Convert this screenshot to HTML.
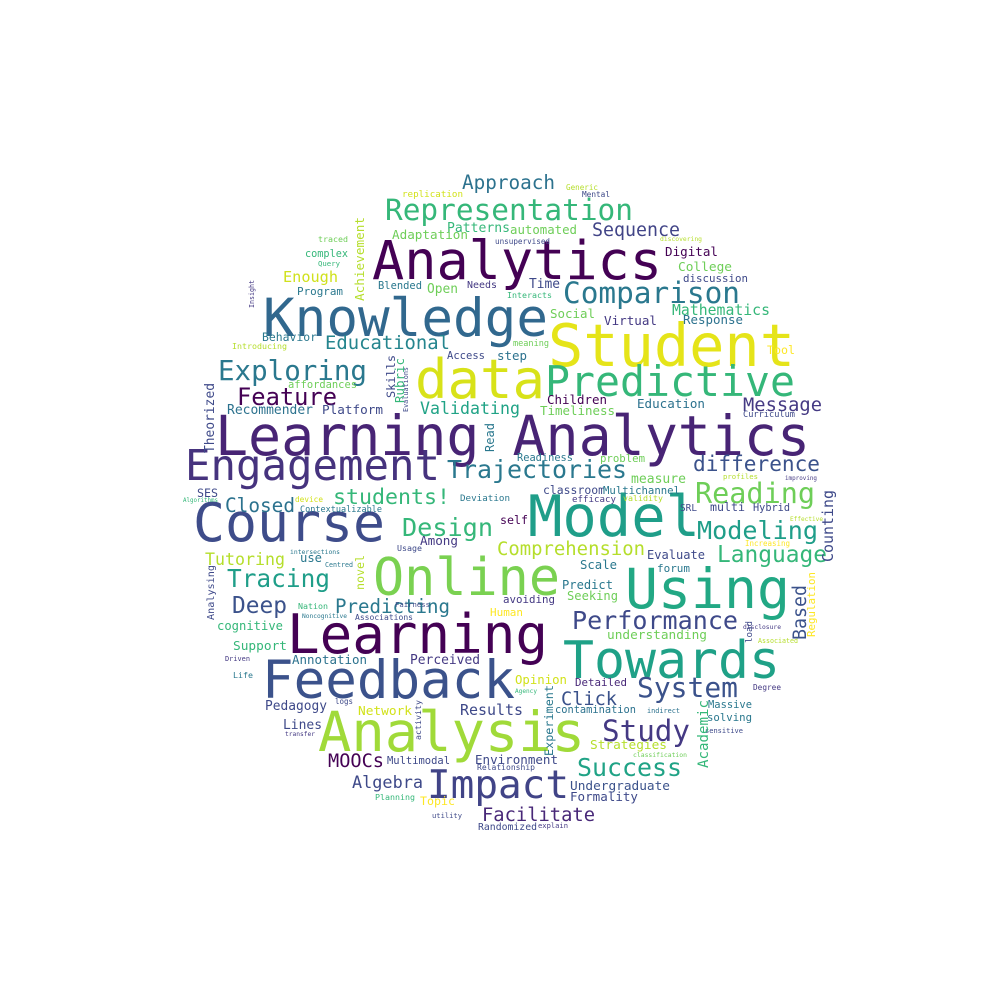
<!DOCTYPE html>
<html><head><meta charset="utf-8">
<style>
html,body{margin:0;padding:0;background:#fff;width:1000px;height:1000px;overflow:hidden}
svg{display:block}
text{font-family:"DejaVu Sans Mono","Liberation Mono",monospace}
</style></head>
<body>
<svg id="cloud" width="1000" height="1000" viewBox="0 0 1000 1000" xmlns="http://www.w3.org/2000/svg">
<rect width="1000" height="1000" fill="#fff"/>
</svg>
<script>
// words: [text, x, baselineY, length, color, rotated]
// horizontal: x = left, y = baseline. rotated: x = baseline x, y = bottom.
const words = [
["Learning Analytics",215,455,595,"#482475",0],
["Analytics",372,279,290,"#440154",0],
["Knowledge",263,336,285,"#31688e",0],
["Student",548,366,247,"#e5e419",0],
["data",415,398,130,"#d8e219",0],
["Predictive",545,396,250,"#35b779",0],
["Engagement",185,480,255,"#46337e",0],
["Course",193,541,192,"#3e4c8a",0],
["Model",528,536,172,"#1f9e89",0],
["Online",373,595,187,"#7ad151",0],
["Using",625,608,165,"#22a884",0],
["Learning",287,653,261,"#440154",0],
["Towards",563,678,217,"#1fa187",0],
["Feedback",262,698,253,"#3b528b",0],
["Analysis",318,751,267,"#a0da39",0],
["Impact",427,798,142,"#414487",0],
["Representation",385,220,248,"#35b779",0],
["Comparison",563,303,177,"#2a788e",0],
["Exploring",218,380,149,"#2a788e",0],
["Trajectories",447,478,180,"#2a788e",0],
["Reading",695,503,120,"#6ece58",0],
["difference",693,471,127,"#3b528b",0],
["Approach",462,189,93,"#2c728e",0],
["Sequence",592,236,88,"#414487",0],
["Feature",237,405,100,"#440154",0],
["Validating",420,414,100,"#20a386",0],
["Educational",325,349,125,"#25858e",0],
["Enough",283,282,55,"#d0e11c",0],
["students!",333,504,117,"#35b779",0],
["Design",402,536,91,"#35b779",0],
["Closed",225,512,70,"#2c728e",0],
["Modeling",697,539,121,"#1f9e89",0],
["Language",717,562,110,"#35b779",0],
["Comprehension",497,555,148,"#b5de2b",0],
["Tutoring",205,565,80,"#b5de2b",0],
["Tracing",227,587,103,"#1f9e89",0],
["Deep",232,613,55,"#3b528b",0],
["Predicting",335,613,115,"#2a788e",0],
["Performance",572,629,166,"#3e4989",0],
["System",637,697,101,"#3b528b",0],
["Study",602,741,88,"#443983",0],
["Success",577,776,105,"#20a386",0],
["Click",561,705,56,"#3b528b",0],
["MOOCs",328,767,56,"#440154",0],
["Algebra",352,788,71,"#3e4989",0],
["Facilitate",482,821,113,"#482878",0],
["Undergraduate",570,790,100,"#3b528b",0],
["Formality",570,801,68,"#3e4989",0],
["Message",743,411,79,"#443983",0],
["Support",233,650,54,"#35b779",0],
["cognitive",217,630,66,"#35b779",0],
["Annotation",292,664,75,"#2c728e",0],
["Perceived",410,664,70,"#443983",0],
["Pedagogy",265,710,62,"#3e4989",0],
["Network",358,715,54,"#d2e21b",0],
["Results",460,715,63,"#3e4989",0],
["Lines",283,729,39,"#3e4989",0],
["Multimodal",387,764,63,"#3e4989",0],
["Environment",475,764,83,"#3e4989",0],
["Recommender",227,414,86,"#2c728e",0],
["Platform",322,414,61,"#3e4989",0],
["Behavior",262,341,55,"#2a788e",0],
["Introducing",232,349,55,"#b5de2b",0],
["affordances",288,388,69,"#6ece58",0],
["Program",297,295,46,"#2a788e",0],
["complex",305,257,43,"#35b779",0],
["Query",318,266,22,"#35b779",0],
["traced",318,242,30,"#6ece58",0],
["replication",402,197,61,"#d2e21b",0],
["Patterns",447,232,63,"#35b779",0],
["Adaptation",392,239,76,"#6ece58",0],
["Blended",378,289,44,"#2a788e",0],
["Open",427,293,31,"#6ece58",0],
["Needs",467,288,30,"#443983",0],
["automated",510,234,67,"#6ece58",0],
["Digital",665,256,53,"#440154",0],
["College",678,271,54,"#6ece58",0],
["discussion",683,282,65,"#3e4989",0],
["Time",529,288,31,"#3e4989",0],
["Mathematics",672,315,98,"#35b779",0],
["Response",683,324,60,"#2c728e",0],
["Social",550,318,45,"#6ece58",0],
["Virtual",604,325,53,"#443983",0],
["Tool",767,354,28,"#fde725",0],
["step",497,360,30,"#2c728e",0],
["Access",447,359,38,"#3e4989",0],
["Children",547,404,60,"#440154",0],
["Timeliness",540,415,75,"#6ece58",0],
["Education",637,408,68,"#2c728e",0],
["Readiness",517,461,56,"#2a788e",0],
["problem",600,462,45,"#6ece58",0],
["measure",631,483,55,"#6ece58",0],
["classroom",543,494,62,"#3e4989",0],
["Multichannel",603,494,77,"#2a788e",0],
["Deviation",460,501,50,"#2a788e",0],
["SES",197,497,21,"#3e4989",0],
["self",500,524,28,"#440154",0],
["Among",420,545,38,"#443983",0],
["use",300,562,22,"#2a788e",0],
["Usage",397,551,25,"#3e4989",0],
["Contextualizable",300,512,82,"#2a788e",0],
["SRL",680,511,17,"#3e4989",0],
["multi",710,511,35,"#3e4989",0],
["Hybrid",753,511,37,"#3e4989",0],
["Evaluate",647,559,58,"#3e4989",0],
["Scale",580,569,37,"#2a788e",0],
["forum",657,572,33,"#2a788e",0],
["Predict",562,589,51,"#2a788e",0],
["Seeking",567,600,51,"#6ece58",0],
["avoiding",503,603,52,"#443983",0],
["Human",490,616,33,"#fde725",0],
["understanding",607,639,100,"#6ece58",0],
["Opinion",515,684,52,"#d2e21b",0],
["Detailed",575,686,52,"#482878",0],
["contamination",555,713,81,"#2c728e",0],
["Massive",708,708,44,"#2a788e",0],
["solving",707,721,45,"#2a788e",0],
["Strategies",590,749,77,"#b5de2b",0],
["Randomized",478,830,59,"#3e4989",0],
["Topic",420,805,35,"#fde725",0],
["Planning",375,800,40,"#35b779",0],
["utility",432,818,30,"#3e4989",0],
["Life",233,678,20,"#2a788e",0],
["logs",335,704,18,"#3e4989",0],
["Generic",566,190,32,"#b5de2b",0],
["Mental",582,197,28,"#3e4989",0],
["unsupervised",495,244,55,"#3e4989",0],
["discovering",660,241,42,"#b5de2b",0],
["Interacts",507,298,45,"#35b779",0],
["meaning",513,346,36,"#6ece58",0],
["Curriculum",743,417,52,"#3e4989",0],
["profiles",723,479,35,"#b5de2b",0],
["improving",785,480,32,"#443983",0],
["efficacy",572,502,44,"#443983",0],
["validity",623,501,40,"#b5de2b",0],
["device",295,502,28,"#d2e21b",0],
["Algorithms",183,502,35,"#35b779",0],
["intersections",290,554,50,"#2a788e",0],
["Centred",325,567,28,"#2a788e",0],
["Nation",298,609,30,"#35b779",0],
["Noncognitive",302,618,45,"#2a788e",0],
["Associations",355,620,58,"#3e4989",0],
["Fairness",395,607,35,"#3e4989",0],
["Driven",225,661,25,"#443983",0],
["transfer",285,736,30,"#443983",0],
["Relationship",477,770,58,"#3e4989",0],
["Agency",515,693,22,"#35b779",0],
["indirect",647,713,33,"#2c728e",0],
["sensitive",705,733,38,"#3e4989",0],
["classification",633,757,54,"#6ece58",0],
["disclosure",743,629,38,"#443983",0],
["Associated",758,643,40,"#b5de2b",0],
["Degree",753,690,28,"#443983",0],
["Increasing",745,546,45,"#fde725",0],
["Effective",790,521,33,"#b5de2b",0],
["explain",538,828,30,"#443983",0],
["Based",806,640,55,"#3b528b",1],
["Counting",833,562,72,"#3e4989",1],
["Skills",395,398,43,"#3e4989",1],
["Rubric",404,403,45,"#35b779",1],
["Achievement",364,301,84,"#b5de2b",1],
["Theorized",214,453,70,"#3e4989",1],
["Read",494,452,29,"#2a788e",1],
["novel",364,590,35,"#b5de2b",1],
["Analysing",214,620,55,"#3e4989",1],
["Experiment",553,756,71,"#2a788e",1],
["Academic",708,768,68,"#35b779",1],
["Regulation",815,637,65,"#fde725",1],
["activity",421,740,40,"#3e4989",1],
["Evaluations",408,412,45,"#3e4989",1],
["Insight",254,308,28,"#443983",1],
["load",752,643,22,"#3e4989",1]
];
const svg = document.getElementById('cloud');
const NS = 'http://www.w3.org/2000/svg';
for (const w of words) {
  const [txt, x, y, len, col, rot] = w;
  const t = document.createElementNS(NS, 'text');
  const size = len / (txt.length * 0.602);
  t.setAttribute('font-size', size.toFixed(2));
  t.setAttribute('fill', col);
  t.setAttribute('textLength', len);
  t.setAttribute('lengthAdjust', 'spacingAndGlyphs');
  if (rot) {
    t.setAttribute('x', 0);
    t.setAttribute('y', 0);
    t.setAttribute('transform', 'translate(' + x + ',' + y + ') rotate(-90)');
  } else {
    t.setAttribute('x', x);
    t.setAttribute('y', y);
  }
  t.textContent = txt;
  
  
  svg.appendChild(t);
}
</script>
</body></html>
